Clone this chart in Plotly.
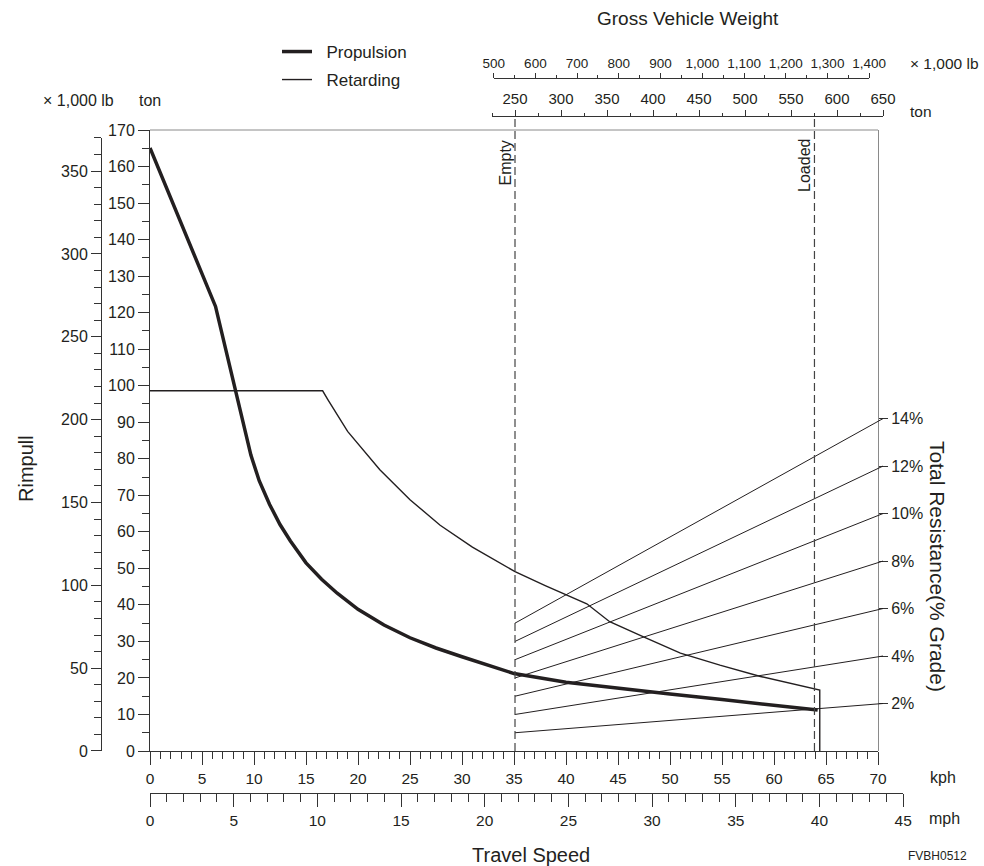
import plotly.graph_objects as go

# ---------------- data ----------------
speed_propulsion_kph = [0, 6.3, 9.7, 10.5, 11.5, 12.5, 13.5, 15, 16.5, 18, 20, 22.5, 25,
                        27.5, 30, 32.5, 35, 40, 45, 50, 55, 60, 64.2]
rimpull_propulsion_ton = [165.1, 121.7, 81.0, 74.0, 67.5, 62.0, 57.5, 51.5, 47.0, 43.2, 38.8,
                          34.5, 31.0, 28.2, 25.8, 23.4, 21.2, 18.8, 17.1, 15.6, 14.1, 12.6, 11.2]

speed_retarding_kph = [0, 16.6, 17.1, 19, 22.1, 25, 27.9, 31, 35.1, 38, 42, 44.2, 47.4, 51,
                       54.8, 58.7, 64.4, 64.4]
rimpull_retarding_ton = [98.6, 98.6, 96.2, 87.5, 77.0, 68.8, 61.8, 55.8, 49.1, 45.3, 40.3,
                         35.4, 31.3, 26.8, 23.5, 20.4, 16.7, 0]

grade_labels = ['2%', '4%', '6%', '8%', '10%', '12%', '14%']
grade_gvw_ton = [250, 650]
grade_rimpull_at_250 = [5, 10, 15, 20, 25, 30, 35]
grade_rimpull_at_650 = [13, 26, 39, 52, 65, 78, 91]

empty_gvw_ton = 250
loaded_gvw_ton = 575.5

# ---------------- geometry (pixels) ----------------
W, H = 984, 866
KPH_PX0, KPH_PX1 = 150, 878      # 0..70 kph
TON_PY0, TON_PY1 = 751, 130      # 0..170 ton
LB_PER_TON = 2.20462
KM_PER_MI = 1.609344


def fx(px):
    return px / W


def fy(py):
    return 1 - py / H


px_per_kph = (KPH_PX1 - KPH_PX0) / 70
px_per_ton = (TON_PY0 - TON_PY1) / 170


def gvw_px(t):
    return 515 + (t - 250) * 0.92


TXT = '#231f20'
AX = '#333333'
BORDER = '#8a8a8a'
FONT = 'Liberation Sans, Arial, sans-serif'
NB = '\u00a0'


def axis_style(size=16, **kw):
    d = dict(showgrid=False, zeroline=False, showline=True, linecolor=AX, linewidth=1,
             ticks='outside', tickcolor=AX, tickwidth=1, automargin=False,
             tickfont=dict(family=FONT, size=size, color=TXT), fixedrange=True)
    d.update(kw)
    return d


fig = go.Figure()

# grade (total resistance) lines on the GVW ton axis
for lab, r0, r1 in zip(grade_labels, grade_rimpull_at_250, grade_rimpull_at_650):
    fig.add_trace(go.Scatter(x=grade_gvw_ton, y=[r0, r1], mode='lines', xaxis='x4', yaxis='y',
                             line=dict(color=TXT, width=1), showlegend=False, hoverinfo='skip',
                             name=lab))

fig.add_trace(go.Scatter(x=speed_propulsion_kph, y=rimpull_propulsion_ton, mode='lines',
                         name=NB * 2 + 'Propulsion', line=dict(color=TXT, width=3.5),
                         legend='legend'))
fig.add_trace(go.Scatter(x=speed_retarding_kph, y=rimpull_retarding_ton, mode='lines',
                         name=NB * 2 + 'Retarding', line=dict(color=TXT, width=1.4),
                         legend='legend2'))

# helper traces so every auxiliary axis is drawn
for xa, ya in [('x', 'y2'), ('x2', 'y'), ('x3', 'y'), ('x', 'y3')]:
    fig.add_trace(go.Scatter(x=[], y=[], xaxis=xa, yaxis=ya, showlegend=False, hoverinfo='skip'))

mph_px1 = KPH_PX0 + 45 * KM_PER_MI * px_per_kph
klb_py1 = TON_PY0 - 370 / LB_PER_TON * px_per_ton

fig.update_layout(
    width=W, height=H, autosize=False,
    margin=dict(l=0, r=0, t=0, b=0, pad=0, autoexpand=False),
    paper_bgcolor='white', plot_bgcolor='rgba(0,0,0,0)',
    font=dict(family=FONT, color=TXT),
    xaxis=axis_style(15.5, domain=[fx(KPH_PX0), fx(KPH_PX1)], range=[0, 70], anchor='y',
                     dtick=5, ticklen=13,
                     minor=dict(dtick=1, ticklen=7, ticks='outside', tickcolor=AX)),
    yaxis=axis_style(16, domain=[fy(TON_PY0), fy(TON_PY1)], range=[0, 170], anchor='x',
                     dtick=10, ticklen=11,
                     minor=dict(dtick=5, ticklen=7, ticks='outside', tickcolor=AX)),
    yaxis2=axis_style(16, domain=[fy(TON_PY0), fy(klb_py1)], range=[0, 370], anchor='free',
                      position=fx(101), side='left', dtick=50, ticklen=10,
                      minor=dict(dtick=10, ticklen=7, ticks='outside', tickcolor=AX)),
    yaxis3=axis_style(16, overlaying='y', range=[0, 170], anchor='free', position=fx(KPH_PX1),
                      side='right', tickmode='array', tickvals=grade_rimpull_at_650,
                      ticktext=grade_labels, ticklen=9, linecolor=BORDER),
    xaxis2=axis_style(15.5, domain=[fx(KPH_PX0), fx(mph_px1)], range=[0, 45], anchor='free',
                      position=fy(793), side='bottom', dtick=5, ticklen=13,
                      minor=dict(dtick=1, ticklen=8, ticks='outside', tickcolor=AX)),
    xaxis3=axis_style(13.5, domain=[fx(gvw_px(500 / LB_PER_TON)), fx(gvw_px(1400 / LB_PER_TON))],
                      range=[500, 1400], anchor='free', position=fy(78), side='top',
                      dtick=100, ticklen=5, tickformat=',d',
                      minor=dict(dtick=50, ticklen=3, ticks='outside', tickcolor=AX)),
    xaxis4=axis_style(15, domain=[fx(gvw_px(225)), fx(gvw_px(650))], range=[225, 650],
                      anchor='free', position=fy(116), side='top', dtick=50, ticklen=6,
                      minor=dict(dtick=25, ticklen=3, ticks='outside', tickcolor=AX)),
    legend=dict(x=fx(277), y=fy(52), xanchor='left', yanchor='middle',
                bgcolor='rgba(0,0,0,0)', font=dict(family=FONT, size=17, color=TXT)),
    legend2=dict(x=fx(277), y=fy(80), xanchor='left', yanchor='middle',
                 bgcolor='rgba(0,0,0,0)', font=dict(family=FONT, size=17, color=TXT)),
)

shapes = [
    # top border of plot box
    dict(type='line', xref='paper', yref='paper', x0=fx(KPH_PX0), x1=fx(KPH_PX1),
         y0=fy(TON_PY1), y1=fy(TON_PY1), line=dict(color=BORDER, width=1)),
]
for g in (empty_gvw_ton, loaded_gvw_ton):
    shapes.append(dict(type='line', xref='x4', yref='paper', x0=g, x1=g,
                       y0=fy(TON_PY0), y1=fy(116), line=dict(color='#444444', width=1.2,
                                                             dash='8px,4px')))
fig.update_layout(shapes=shapes)


def ann(text, px, py, size=16, angle=0, xanchor='center', yanchor='middle', **kw):
    d = dict(text=text, x=fx(px), y=fy(py), xref='paper', yref='paper', showarrow=False,
             font=dict(family=FONT, size=size, color=TXT), textangle=angle,
             xanchor=xanchor, yanchor=yanchor)
    d.update(kw)
    return d


annotations = [
    ann('Gross Vehicle Weight', 688, 18, size=19),
    ann('× 1,000 lb', 944, 63, size=15.5),
    ann('ton', 921, 112, size=15.5),
    ann('× 1,000 lb', 78, 101, size=16),
    ann('ton', 150, 101, size=16),
    ann('Rimpull', 26, 469, size=20, angle=-90),
    ann('Total Resistance(% Grade)', 938, 566, size=21, angle=90),
    ann('kph', 943, 777, size=16),
    ann('mph', 944, 818, size=16),
    ann('Travel Speed', 531, 855, size=20),
    ann('FVBH0512', 937, 856, size=12),
    dict(text='Empty', x=empty_gvw_ton, xref='x4', y=fy(139), yref='paper', showarrow=False,
         textangle=-90, xanchor='center', yanchor='top', xshift=-10,
         font=dict(family=FONT, size=16, color=TXT)),
    dict(text='Loaded', x=loaded_gvw_ton, xref='x4', y=fy(137), yref='paper', showarrow=False,
         textangle=-90, xanchor='center', yanchor='top', xshift=-10,
         font=dict(family=FONT, size=16, color=TXT)),
]
fig.update_layout(annotations=annotations)

fig.write_html('out.html', config={'displayModeBar': False},
               post_script="document.body.style.margin='0';")
